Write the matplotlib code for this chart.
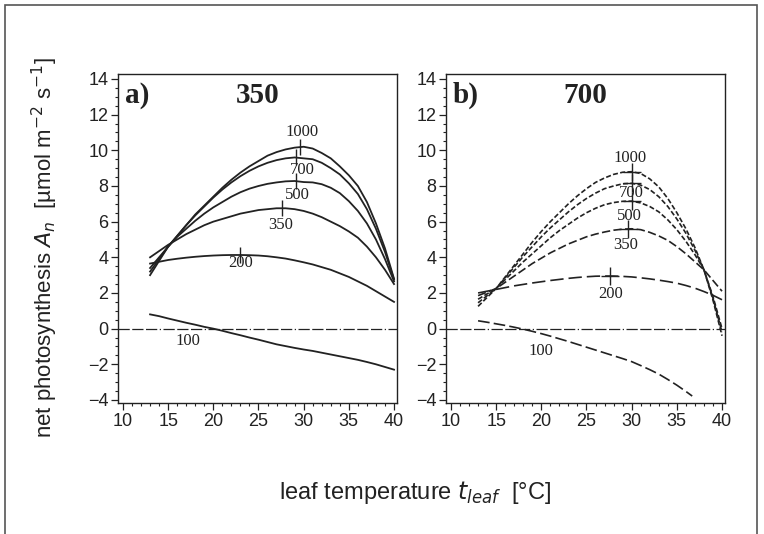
import matplotlib

matplotlib.use("Agg")
import matplotlib.pyplot as plt
from matplotlib.patches import Rectangle
from matplotlib.ticker import MultipleLocator

plt.rcParams.update({"font.family": ["Liberation Sans", "DejaVu Sans"]})

# ---------------------------------------------------------------- data
temp = list(range(13, 41))

# panel a) 350 ppm growth CO2, curves labelled by measurement CO2
a_1000 = [3.0, 3.8, 4.6, 5.2, 5.8, 6.4, 6.9, 7.4, 7.9, 8.35, 8.75, 9.1, 9.4, 9.7,
          9.9, 10.05, 10.15, 10.2, 10.1, 9.85, 9.55, 9.1, 8.6, 8.0, 7.1, 5.9, 4.5, 2.8]
a_700 = [3.2, 3.9, 4.6, 5.2, 5.8, 6.35, 6.85, 7.35, 7.8, 8.2, 8.55, 8.85, 9.1, 9.3,
         9.45, 9.55, 9.6, 9.55, 9.5, 9.3, 9.0, 8.65, 8.15, 7.55, 6.7, 5.6, 4.3, 2.75]
a_500 = [3.4, 4.0, 4.6, 5.15, 5.6, 6.05, 6.45, 6.8, 7.1, 7.4, 7.65, 7.85, 8.0, 8.12,
         8.2, 8.26, 8.28, 8.22, 8.2, 8.1, 7.9, 7.6, 7.15, 6.6, 5.9, 5.0, 3.9, 2.65]
a_350 = [4.0, 4.35, 4.7, 5.0, 5.3, 5.55, 5.8, 6.0, 6.15, 6.3, 6.45, 6.55, 6.65, 6.7,
         6.75, 6.75, 6.7, 6.6, 6.45, 6.25, 6.0, 5.75, 5.45, 5.1, 4.6, 4.0, 3.3, 2.5]
a_200 = [3.65, 3.75, 3.85, 3.92, 3.98, 4.03, 4.07, 4.1, 4.12, 4.13, 4.13, 4.12, 4.1,
         4.06, 4.0, 3.93, 3.83, 3.72, 3.6, 3.45, 3.3, 3.1, 2.9, 2.65, 2.4, 2.1, 1.8, 1.5]
a_100 = [0.8, 0.7, 0.57, 0.45, 0.33, 0.22, 0.1, 0.0, -0.12, -0.25, -0.37, -0.5, -0.62,
         -0.75, -0.88, -0.98, -1.08, -1.17, -1.25, -1.35, -1.45, -1.55, -1.65, -1.75,
         -1.87, -2.0, -2.15, -2.3]

# panel b) 700 ppm growth CO2
b_1000 = [1.25, 1.75, 2.25, 2.9, 3.55, 4.2, 4.85, 5.45, 6.0, 6.5, 7.0, 7.45, 7.85, 8.2,
          8.45, 8.65, 8.77, 8.8, 8.7, 8.4, 7.95, 7.3, 6.5, 5.6, 4.55, 3.3, 1.6, -0.4]
b_700 = [1.45, 1.85, 2.25, 2.85, 3.45, 4.05, 4.6, 5.15, 5.65, 6.1, 6.55, 6.95, 7.3, 7.6,
         7.85, 8.0, 8.12, 8.15, 8.05, 7.8, 7.4, 6.85, 6.15, 5.35, 4.4, 3.3, 1.7, -0.2]
b_500 = [1.65, 1.95, 2.25, 2.75, 3.25, 3.75, 4.2, 4.65, 5.1, 5.5, 5.85, 6.2, 6.5, 6.75,
         6.95, 7.07, 7.14, 7.15, 7.05, 6.85, 6.55, 6.1, 5.55, 4.9, 4.15, 3.3, 1.8, 0.0]
b_350 = [1.85, 2.05, 2.25, 2.6, 2.95, 3.3, 3.65, 3.95, 4.25, 4.5, 4.75, 4.95, 5.15, 5.3,
         5.42, 5.52, 5.58, 5.6, 5.55, 5.4, 5.2, 4.95, 4.6, 4.2, 3.75, 3.3, 2.7, 2.1]
b_200 = [2.0, 2.1, 2.2, 2.3, 2.4, 2.48, 2.56, 2.63, 2.7, 2.76, 2.82, 2.87, 2.91, 2.94,
         2.95, 2.95, 2.93, 2.9, 2.85, 2.79, 2.72, 2.64, 2.55, 2.42, 2.27, 2.08, 1.87, 1.62]
temp_b100 = [13, 14, 15, 16, 17, 18, 19, 20, 21, 22, 23, 24, 25, 26, 27, 28, 29, 30,
             31, 32, 33, 34, 35, 36, 36.7]
b_100 = [0.44, 0.36, 0.27, 0.18, 0.08, -0.03, -0.15, -0.28, -0.42, -0.57, -0.72, -0.88,
         -1.04, -1.2, -1.36, -1.52, -1.68, -1.85, -2.07, -2.3, -2.55, -2.85, -3.17,
         -3.52, -3.78]

# optimum markers and curve labels
co2_labels = ["1000", "700", "500", "350", "200", "100"]
a_peak_x = [29.6, 29.2, 29.1, 27.6, 22.9]
a_peak_y = [10.2, 9.6, 8.28, 6.75, 4.13]
a_lab_x = [29.8, 29.8, 29.3, 27.4, 23.0, 17.2]
a_lab_y = [11.05, 8.9, 7.5, 5.8, 3.7, -0.7]
b_peak_x = [30.0, 30.0, 30.0, 29.6, 27.6]
b_peak_y = [8.8, 8.15, 7.15, 5.6, 2.95]
b_lab_x = [29.8, 30.0, 29.8, 29.3, 27.7, 20.0]
b_lab_y = [9.55, 7.62, 6.33, 4.69, 1.94, -1.25]

INK = "#222222"
SERIF = ["Liberation Serif", "DejaVu Serif"]

fig = plt.figure(figsize=(7.64, 5.34), dpi=100)
fig.patches.append(Rectangle((5 / 764, -0.1), 752 / 764, 1.1 - 5 / 534,
                             transform=fig.transFigure, fill=False,
                             edgecolor="#555555", lw=1.2))

ax_a = fig.add_axes([118 / 764, 131 / 534, 279 / 764, 329 / 534])
ax_b = fig.add_axes([446 / 764, 131 / 534, 279 / 764, 329 / 534])

for ax in (ax_a, ax_b):
    ax.set_xlim(9.45, 40.33)
    ax.set_ylim(-4.17, 14.28)
    ax.xaxis.set_major_locator(MultipleLocator(5))
    ax.xaxis.set_minor_locator(MultipleLocator(1))
    ax.yaxis.set_major_locator(MultipleLocator(2))
    ax.yaxis.set_minor_locator(MultipleLocator(0.5))
    ax.tick_params(which="major", direction="out", length=5, width=0.9, color=INK,
                   labelsize=13, labelcolor=INK, pad=2)
    ax.tick_params(which="minor", direction="out", length=2.5, width=0.8, color=INK)
    for s in ax.spines.values():
        s.set_color(INK)
        s.set_linewidth(1.0)
    ax.axhline(0, color=INK, lw=0.9, ls=(0, (9, 2, 9, 2, 9, 2, 1, 2)))

# panel a: solid curves
for ys in (a_1000, a_700, a_500, a_350, a_200, a_100):
    ax_a.plot(temp, ys, color=INK, lw=1.3)
ax_a.plot(a_peak_x, a_peak_y, ls="none", marker="|", ms=12, mew=1.0, color=INK)
for lab, x, y in zip(co2_labels, a_lab_x, a_lab_y):
    ax_a.text(x, y, lab, ha="center", va="center", family=SERIF, fontsize=12, color=INK)

# panel b: dashed curves
short = (0, (3, 1.4))
for ys in (b_1000, b_700, b_500):
    ax_b.plot(temp, ys, color=INK, lw=1.2, ls=short)
ax_b.plot(temp, b_350, color=INK, lw=1.2, ls=(0, (5, 2)))
ax_b.plot(temp, b_200, color=INK, lw=1.2, ls=(0, (8, 3)))
ax_b.plot(temp_b100, b_100, color=INK, lw=1.2, ls=(0, (7, 2.5)))
ax_b.plot(b_peak_x, b_peak_y, ls="none", marker="+", ms=13, mew=1.0, color=INK)
for lab, x, y in zip(co2_labels, b_lab_x, b_lab_y):
    ax_b.text(x, y, lab, ha="center", va="center", family=SERIF, fontsize=12, color=INK)

for ax, tag, title in ((ax_a, "a)", "350"), (ax_b, "b)", "700")):
    ax.text(0.025, 0.935, tag, transform=ax.transAxes, ha="left", va="center",
            family=SERIF, fontsize=21, fontweight="bold", color=INK)
    ax.text(0.5, 0.935, title, transform=ax.transAxes, ha="center", va="center",
            family=SERIF, fontsize=21, fontweight="bold", color=INK)

fig.text(45 / 764, 1 - 248 / 534, r"net photosynthesis $\mathit{A_n}$  [µmol m$^{-2}$ s$^{-1}$]",
         rotation=90, ha="center", va="center", fontsize=16, color=INK)
fig.text(415 / 764, 1 - 492 / 534, r"leaf temperature $\mathit{t_{leaf}}$  [°C]",
         ha="center", va="center", fontsize=17, color=INK)

fig.savefig("out.png", dpi=100)
